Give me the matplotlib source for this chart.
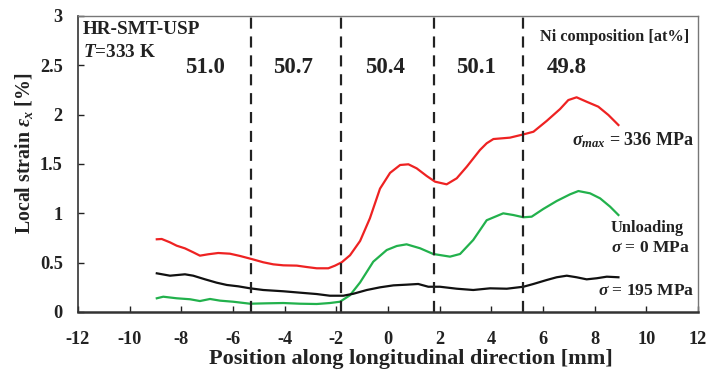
import numpy as np
import matplotlib
matplotlib.use("Agg")
import matplotlib.pyplot as plt

plt.rcParams['font.family'] = ['Liberation Serif', 'DejaVu Serif']
plt.rcParams['font.weight'] = 'bold'
plt.rcParams['axes.unicode_minus'] = False
plt.rcParams['mathtext.fontset'] = 'custom'
plt.rcParams['mathtext.rm'] = 'Liberation Serif:bold'
plt.rcParams['mathtext.it'] = 'Liberation Serif:italic:bold'
plt.rcParams['mathtext.bf'] = 'Liberation Serif:bold'

# Local strain profiles along the specimen [mm, %]
x_336 = [-8.95, -8.76, -8.44, -8.18, -7.86, -7.54, -7.28, -6.96, -6.57, -6.12, -5.73,
         -5.28, -4.83, -4.44, -4.05, -3.53, -3.15, -2.76, -2.31, -2.05, -1.79, -1.47,
         -1.08, -0.70, -0.31, 0.08, 0.47, 0.79, 1.11, 1.50, 1.82, 2.27, 2.66,
         3.05, 3.56, 3.82, 4.08, 4.72, 5.24, 5.63, 6.14, 6.66, 6.98, 7.30, 7.69, 8.14,
         8.53, 8.92]
y_336 = [0.737, 0.74, 0.706, 0.672, 0.645, 0.605, 0.571, 0.585, 0.598, 0.591, 0.568,
         0.537, 0.504, 0.483, 0.473, 0.47, 0.456, 0.443, 0.443, 0.47, 0.504, 0.575,
         0.72, 0.95, 1.25, 1.41, 1.49, 1.497, 1.456, 1.378, 1.321, 1.294, 1.355,
         1.473, 1.642, 1.71, 1.753, 1.767, 1.80, 1.827, 1.936, 2.057, 2.148, 2.176,
         2.131, 2.081, 1.997, 1.895]

x_0 = [-8.95, -8.70, -8.18, -7.66, -7.28, -6.89, -6.50, -5.99, -5.34, -4.70, -4.05,
       -3.41, -2.76, -2.25, -1.86, -1.47, -1.08, -0.57, -0.05, 0.34, 0.72, 1.24, 1.75,
       2.40, 2.79, 3.30, 3.82, 4.46, 4.85, 5.24, 5.56, 6.01, 6.53, 7.05, 7.37, 7.82,
       8.21, 8.60, 8.92]
y_0 = [0.139, 0.155, 0.139, 0.129, 0.111, 0.132, 0.115, 0.104, 0.084, 0.088, 0.091,
       0.084, 0.081, 0.091, 0.104, 0.17, 0.30, 0.51, 0.628, 0.669, 0.686, 0.646, 0.588,
       0.561, 0.588, 0.73, 0.93, 1.0, 0.983, 0.96, 0.966, 1.044, 1.125, 1.193, 1.226,
       1.203, 1.152, 1.067, 0.983]

x_195 = [-8.95, -8.44, -7.86, -7.54, -7.08, -6.63, -6.24, -5.79, -5.34, -4.83, -4.05,
         -3.41, -2.76, -2.25, -1.73, -1.34, -0.82, -0.31, 0.21, 0.72, 1.17, 1.56, 2.01,
         2.66, 3.30, 3.95, 4.60, 5.24, 5.63, 6.14, 6.53, 6.92, 7.30, 7.69, 8.08, 8.47,
         8.92]
y_195 = [0.392, 0.368, 0.382, 0.368, 0.331, 0.297, 0.274, 0.26, 0.24, 0.223, 0.21,
         0.196, 0.182, 0.165, 0.165, 0.185, 0.223, 0.25, 0.27, 0.277, 0.284, 0.256,
         0.256, 0.236, 0.223, 0.24, 0.236, 0.256, 0.284, 0.324, 0.352, 0.368, 0.352,
         0.331, 0.342, 0.358, 0.352]

# Composition zone boundaries [mm] and Ni content [at%]
boundaries = [-5.3, -1.82, 1.78, 5.21]
zone_labels = ['51.0', '50.7', '50.4', '50.1', '49.8']
zone_x = [-7.1, -3.66, -0.1, 3.42, 6.92]

fig = plt.figure(figsize=(7.07, 3.72), dpi=100)
ax = fig.add_axes([78 / 707, 1 - 312 / 372, 620 / 707, 296 / 372])

ax.plot(x_336, y_336, color='#ee2222', lw=1.6, solid_joinstyle='round')
ax.plot(x_0, y_0, color='#22b14c', lw=1.6, solid_joinstyle='round')
ax.plot(x_195, y_195, color='#111111', lw=1.6, solid_joinstyle='round')

for b in boundaries:
    ax.axvline(b, color='#222222', lw=1.6, ls=(0, (5, 3.5)))

ax.set_xlim(-12, 12)
ax.set_ylim(0, 3)
ax.set_xticks(np.arange(-12, 13, 2))
ax.set_yticks([0, 0.5, 1, 1.5, 2, 2.5, 3])
ax.set_yticklabels(['0', '0.5', '1', '1.5', '2', '2.5', '3'])
ax.tick_params(direction='in', length=4, width=1, labelsize=13.2, colors='#222222')
ax.tick_params(axis='x', pad=14)
ax.tick_params(axis='y', pad=11)

for side in ['top', 'right']:
    ax.spines[side].set_color('#777777')
    ax.spines[side].set_linewidth(1.0)
ax.spines['bottom'].set_color('#333333')
ax.spines['bottom'].set_linewidth(1.8)
ax.spines['left'].set_color('#333333')
ax.spines['left'].set_linewidth(1.2)

ax.set_xlabel('Position along longitudinal direction [mm]', fontsize=16,
              fontweight='bold', color='#222222')
ax.set_ylabel(r'Local strain $\varepsilon_x$ [%]', fontsize=14.3,
              fontweight='bold', color='#222222')
ax.xaxis.set_label_coords(0.537, -0.125)
ax.yaxis.set_label_coords(-0.070, 0.535)

ax.text(-11.8, 2.95, 'HR-SMT-USP', fontsize=13.8, va='top', ha='left', color='#222222')
ax.text(-11.8, 2.72, r'$T$=333 K', fontsize=13.8, va='top', ha='left', color='#222222')
ax.text(11.65, 2.79, 'Ni composition [at%]', fontsize=11.7, va='center', ha='right',
        color='#222222')
for lab, zx in zip(zone_labels, zone_x):
    ax.text(zx, 2.48, lab, fontsize=16.5, ha='center', va='center', color='#222222')

ax.text(11.85, 1.74, r'$\sigma_{max}$ = 336 MPa', fontsize=13, ha='right', va='center',
        color='#222222')
ax.text(8.63, 0.85, 'Unloading', fontsize=11.8, ha='left', va='center', color='#222222')
ax.text(8.63, 0.65, r'$\sigma$ = 0 MPa', fontsize=12.6, ha='left', va='center',
        color='#222222')
ax.text(11.85, 0.21, r'$\sigma$ = 195 MPa', fontsize=12.6, ha='right', va='center',
        color='#222222')

fig.savefig('out.png', dpi=100)
